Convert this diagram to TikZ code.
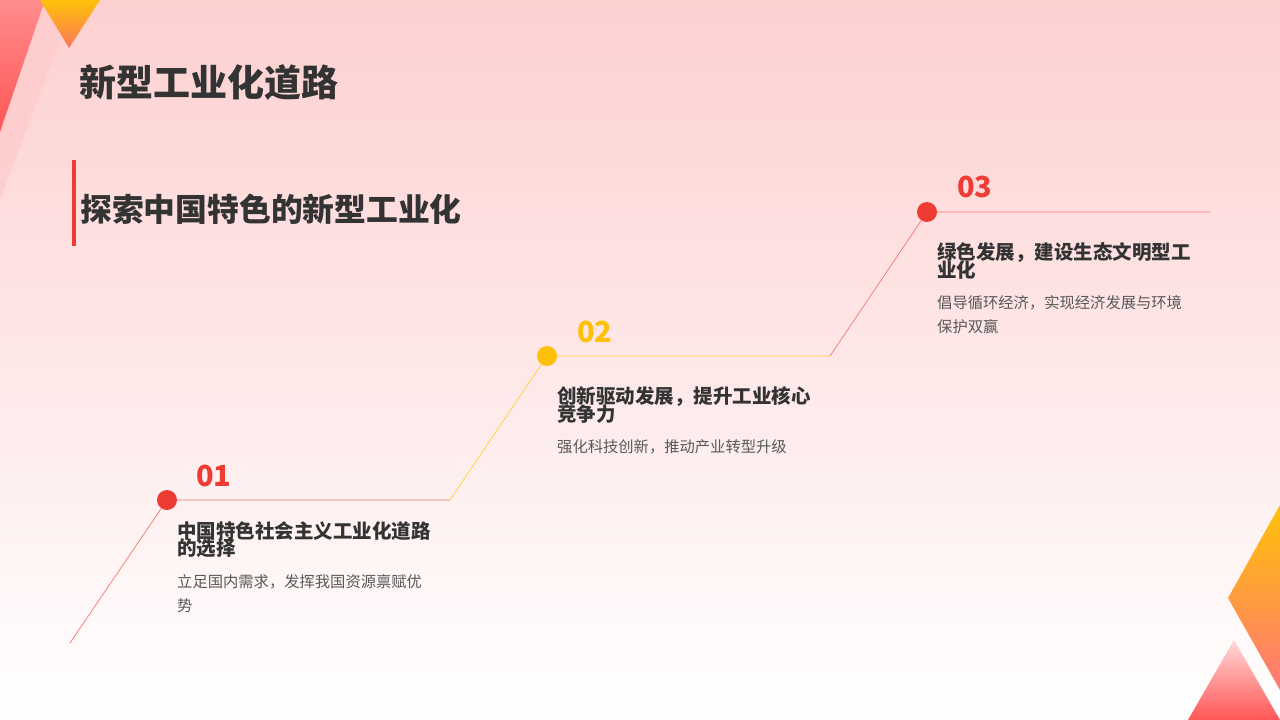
\documentclass[tikz,border=0pt]{standalone}
\usepackage{fontspec}
\setmainfont{Noto Sans CJK SC}
\begin{document}
\begin{tikzpicture}[x=1pt,y=-1pt,
 head/.style={anchor=north west,inner sep=0,font=\bfseries\fontsize{19.5}{19}\selectfont,text=black!80,align=left,text width=285pt},
 body/.style={anchor=north west,inner sep=0,font=\fontsize{15.3}{24}\selectfont,text=black!65,align=left,text width=285pt},
 num/.style={anchor=west,inner sep=0,font=\bfseries\fontsize{29}{29}\selectfont},
 dotm/.style={circle,inner sep=0,minimum size=20pt}]
\definecolor{cred}{HTML}{EE3B33}
\definecolor{cyel}{HTML}{FFC107}
\definecolor{bgpink}{HTML}{FDD0D0}
\definecolor{cora}{HTML}{FA785A}
\definecolor{pred}{HTML}{FF5555}
\useasboundingbox (0,0) rectangle (1280,720);
\shade[shading=axis,shading angle=-60,top color=bgpink,bottom color=white] (0,0) rectangle (1280,720);
% corner shapes
\fill[red!20,opacity=0.8] (0,0) -- (75,0) -- (0,200) -- cycle;
\shade[top color=red!45,bottom color=pred] (0,0) -- (45,0) -- (0,132) -- cycle;
\shade[top color=cyel,bottom color=cora] (40,0) -- (100,0) -- (69,48) -- cycle;
\shade[top color=cyel,bottom color=pred!80] (1280,505) -- (1228,598) -- (1280,690) -- cycle;
\shade[top color=red!15,bottom color=pred] (1234,640) -- (1188,720) -- (1280,720) -- cycle;
% titles
\node[anchor=west,inner sep=0,font=\bfseries\fontsize{37}{37}\selectfont,text=black!80] (t) at (79,82) {新型工业化道路};
\fill[cred] (72,160) rectangle (76,246);
\node[anchor=west,inner sep=0,font=\bfseries\fontsize{31.8}{32}\selectfont,text=black!80] (st) at (80,209) {探索中国特色的新型工业化};
% timeline
\coordinate (s0) at (70,643);
\node[dotm,fill=cred] (d1) at (167,500) {};
\coordinate (e1) at (450,500);
\node[dotm,fill=cyel] (d2) at (547,356) {};
\coordinate (e2) at (830,356);
\node[dotm,fill=cred] (d3) at (927,212) {};
\coordinate (e3) at (1210,212);
\draw[cred!70,line width=0.7pt] (s0) -- (d1) -- (e1);
\draw[cyel!80,line width=0.7pt] (e1) -- (d2) -- (e2);
\draw[cred!70,line width=0.7pt] (e2) -- (d3) -- (e3);
\node[num,text=cred] (n1) at (196,476) {01};
\node[num,text=cyel] (n2) at (577,332) {02};
\node[num,text=cred] (n3) at (957,187) {03};
\node[head] (h1) at (177,521) {中国特色社会主义工业化道路\\[-2pt]的选择};
\node[body] (b1) at (177,574) {立足国内需求，发挥我国资源禀赋优\\势};
\node[head] (h2) at (557,386) {创新驱动发展，提升工业核心\\[-2pt]竞争力};
\node[body] (b2) at (557,439) {强化科技创新，推动产业转型升级};
\node[head] (h3) at (937,242) {绿色发展，建设生态文明型工\\[-2pt]业化};
\node[body] (b3) at (937,295) {倡导循环经济，实现经济发展与环境\\保护双赢};
\end{tikzpicture}
\end{document}
